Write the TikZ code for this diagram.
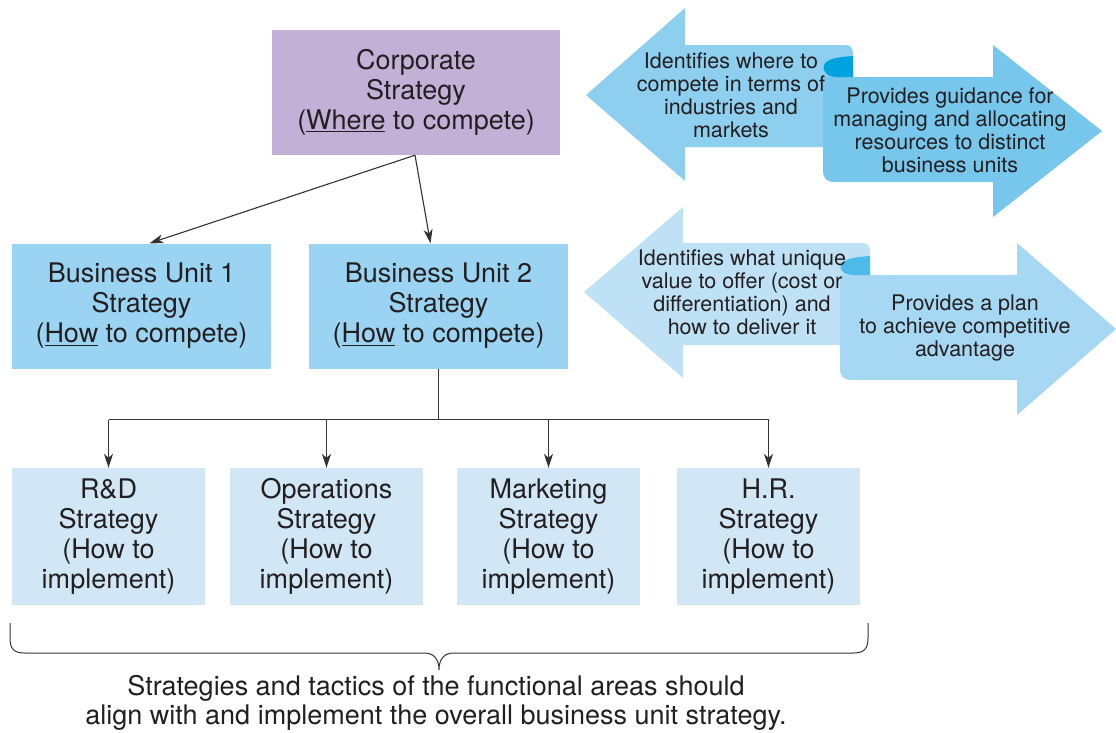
\documentclass[tikz,border=0pt]{standalone}
\usepackage{fontspec}
\setmainfont{TeX Gyre Heros}
\usetikzlibrary{arrows.meta,calc}
\definecolor{txt}{HTML}{231F20}
\definecolor{corpc}{HTML}{C3B0D6}
\definecolor{buc}{HTML}{9BD4F2}
\definecolor{func}{HTML}{D1E7F6}
\definecolor{aUL}{HTML}{8ECFF0}
\definecolor{aUR}{HTML}{77C6EC}
\definecolor{aUC}{HTML}{00A3DF}
\definecolor{aLL}{HTML}{BEE1F5}
\definecolor{aLR}{HTML}{A7D8F3}
\definecolor{aLC}{HTML}{4CBBE9}
\definecolor{linec}{HTML}{333333}
\begin{document}
\begin{tikzpicture}[x=1pt,y=-1pt,
  box/.style={inner sep=0pt, align=center, text=txt, font=\fontsize{27}{30}\selectfont},
  atext/.style={inner sep=0pt, align=center, text=txt, font=\fontsize{21.5}{23}\selectfont},
  conn/.style={draw=linec, line width=1.1pt, -{Stealth[length=14pt,width=9pt,inset=4pt]}},
  plain/.style={draw=linec, line width=1.1pt}]
\useasboundingbox (0,0) rectangle (1116,732);

% boxes
\node[box, fill=corpc, minimum width=288pt, minimum height=125pt] (corp) at (416,92.5)
  {Corporate\\Strategy\\(\underline{Where} to compete)};
\node[box, fill=buc, minimum width=259pt, minimum height=125pt] (bu1) at (141.5,306)
  {Business Unit 1\\Strategy\\(\underline{How} to compete)};
\node[box, fill=buc, minimum width=259pt, minimum height=125pt] (bu2) at (438.5,306)
  {Business Unit 2\\Strategy\\(\underline{How} to compete)};
\node[box, fill=func, minimum width=193pt, minimum height=137pt] (rd) at (108.5,536.5)
  {R\&D\\Strategy\\(How to\\implement)};
\node[box, fill=func, minimum width=193pt, minimum height=137pt] (ops) at (326.5,536.5)
  {Operations\\Strategy\\(How to\\implement)};
\node[box, fill=func, minimum width=183pt, minimum height=137pt] (mkt) at (548.5,536.5)
  {Marketing\\Strategy\\(How to\\implement)};
\node[box, fill=func, minimum width=183pt, minimum height=137pt] (hr) at (768.5,536.5)
  {H.R.\\Strategy\\(How to\\implement)};

% connectors
\draw[conn] ($(corp.south)+(-1,0)$) -- ($(bu1.north)+(8,0)$);
\draw[conn] ($(corp.south)+(-1,0)$) -- ($(bu2.north)+(-8,0)$);
\draw[plain] (bu2.south) -- ++(0,51) coordinate (j);
\draw[plain] (j -| rd.north) -- (j -| hr.north);
\draw[conn] (j -| rd.north) -- (rd.north);
\draw[conn] (j -| ops.north) -- (ops.north);
\draw[conn] (j -| mkt.north) -- (mkt.north);
\draw[conn] (j -| hr.north) -- (hr.north);

% upper double arrow
\fill[aUL] (586,95) -- (685,8) -- (685,45) -- (845,45)
  .. controls (851,45) and (853,48) .. (853,54) -- (853,147) -- (685,147) -- (685,181) -- cycle;
\fill[aUR] (823,77) -- (993,77) -- (993,45) -- (1102,131) -- (993,217) -- (993,182)
  -- (835,182) .. controls (826,182) and (823,178) .. (823,170) -- cycle;
\fill[aUC] (853,56) .. controls (840,57) and (827,58) .. (824,65)
  .. controls (822,73) and (829,77) .. (837,77) -- (853,77) -- cycle;
\node[atext] (t1) at (731,95) {Identifies where to\\compete in terms of\\industries and\\markets};
\node[atext] (t2) at (950,130) {Provides guidance for\\managing and allocating\\resources to distinct\\business units};

% lower double arrow
\fill[aLL] (584,292) -- (683,207) -- (683,243) -- (862,243)
  .. controls (868,243) and (870,246) .. (870,252) -- (870,345) -- (683,345) -- (683,378) -- cycle;
\fill[aLR] (840,275) -- (1017,275) -- (1017,243) -- (1116,329) -- (1017,415) -- (1017,380)
  -- (852,380) .. controls (843,380) and (840,376) .. (840,368) -- cycle;
\fill[aLC] (870,256) .. controls (857,257) and (844,258) .. (841,265)
  .. controls (839,272) and (846,275) .. (854,275) -- (870,275) -- cycle;
\node[atext] (t3) at (742,292) {Identifies what unique\\value to offer (cost or\\differentiation) and\\how to deliver it};
\node[atext] (t4) at (965,328) {Provides a plan\\to achieve competitive\\advantage};

% brace
\draw[plain, line width=1pt] (10,623) -- (10,638) .. controls (10,649) and (14,653) .. (25,653)
  -- (424,653) .. controls (433,653) and (439,658) .. (439,670)
  .. controls (439,658) and (445,653) .. (454,653) -- (853,653)
  .. controls (864,653) and (868,649) .. (868,638) -- (868,623);
\node[box, font=\fontsize{27}{29}\selectfont] (note) at (436,703)
  {Strategies and tactics of the functional areas should\\align with and implement the overall business unit strategy.};
\end{tikzpicture}
\end{document}
